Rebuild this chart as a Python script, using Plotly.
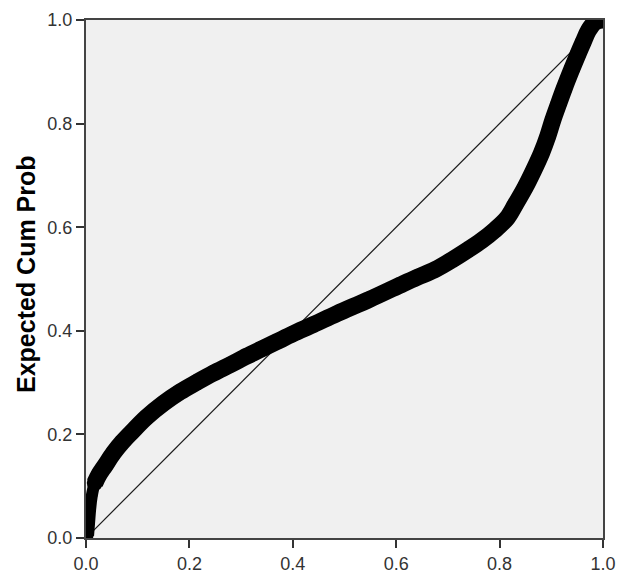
import plotly.graph_objects as go

# P-P plot: observed cumulative probability vs expected cumulative probability
observed_cum_prob = [
    0.004, 0.006, 0.008, 0.011, 0.017, 0.025, 0.037, 0.053, 0.070, 0.089,
    0.117, 0.150, 0.182, 0.215, 0.246, 0.280, 0.311, 0.340, 0.369, 0.400,
    0.440, 0.485, 0.549, 0.607, 0.640, 0.675, 0.710, 0.740, 0.765, 0.790,
    0.814, 0.830, 0.849, 0.865, 0.881, 0.893, 0.903, 0.914, 0.925, 0.940,
    0.952, 0.962, 0.972, 0.985, 1.000,
]
expected_cum_prob = [
    0.005, 0.030, 0.055, 0.080, 0.106, 0.122, 0.140, 0.164, 0.185, 0.205,
    0.233, 0.260, 0.282, 0.301, 0.318, 0.335, 0.351, 0.365, 0.379, 0.394,
    0.412, 0.433, 0.461, 0.488, 0.503, 0.518, 0.538, 0.557, 0.574, 0.594,
    0.617, 0.643, 0.676, 0.708, 0.743, 0.775, 0.807, 0.838, 0.868, 0.906,
    0.935, 0.958, 0.980, 0.996, 1.000,
]
reference_line = [0.0, 1.0]
tick_values = [0.0, 0.2, 0.4, 0.6, 0.8, 1.0]
tick_labels = ["0.0", "0.2", "0.4", "0.6", "0.8", "1.0"]

n_tail = 5  # points hugging the y axis, drawn thinner
font_family = "Liberation Sans, Arial, sans-serif"

fig = go.Figure()

# diagonal reference line
fig.add_trace(go.Scatter(
    x=reference_line, y=reference_line, mode="lines",
    line=dict(color="#1a1a1a", width=1.2), hoverinfo="skip",
))

# thin tail near the origin
fig.add_trace(go.Scatter(
    x=observed_cum_prob[:n_tail + 1], y=expected_cum_prob[:n_tail + 1],
    mode="lines+markers", line=dict(color="black", width=12, shape="spline"),
    marker=dict(color="black", size=11),
))

# main dense band of points
fig.add_trace(go.Scatter(
    x=observed_cum_prob[n_tail - 1:], y=expected_cum_prob[n_tail - 1:],
    mode="lines+markers",
    line=dict(color="black", width=17, shape="spline", smoothing=1),
    marker=dict(color="black", size=16),
))

axis_style = dict(
    range=[0, 1], tickvals=tick_values, ticktext=tick_labels,
    showgrid=False, zeroline=False, automargin=False,
    showline=True, linecolor="#444444", linewidth=2, mirror=True,
    ticks="outside", ticklen=8, tickwidth=2, tickcolor="#333333",
    tickfont=dict(family=font_family, size=18, color="#333333"),
)

# the page body adds an 8px margin, so the figure is sized to fit inside it
fig.update_layout(
    width=615, height=570,
    margin=dict(l=78, r=20, t=12, b=40, autoexpand=False),
    paper_bgcolor="white", plot_bgcolor="#f0f0f0",
    showlegend=False,
    xaxis=axis_style,
    yaxis=axis_style,
    annotations=[dict(
        text="<b>Expected Cum Prob</b>", textangle=-90,
        xref="paper", yref="paper", x=0, y=0.5,
        xanchor="center", yanchor="middle", xshift=-60, yshift=5,
        showarrow=False,
        font=dict(family=font_family, size=25, color="black"),
    )],
)

fig.write_html("out.html")
